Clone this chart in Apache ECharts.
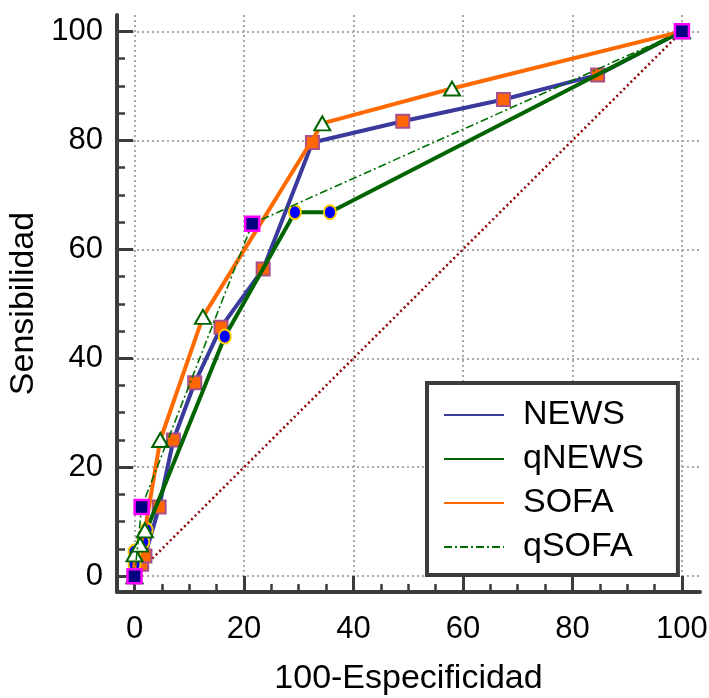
<!DOCTYPE html>
<html>
<head>
<meta charset="utf-8">
<script src="https://cdn.jsdelivr.net/npm/echarts@6/dist/echarts.min.js"></script>
<style>html,body{margin:0;padding:0;background:#fff;}#c{width:709px;height:698px;}</style>
</head>
<body>
<div id="c"></div>
<script>
// ---- data ----
const seriesNames = ['NEWS', 'qNEWS', 'SOFA', 'qSOFA'];
const newsX  = [0, 1.3, 1.9, 4.5, 7.1, 11.0, 15.8, 23.5, 32.5, 49.0, 67.4, 84.6, 100];
const newsY  = [0, 2.2, 3.7, 12.7, 25.0, 35.5, 45.7, 56.4, 79.6, 83.5, 87.5, 92.0, 100];
const qnewsX = [0, 0, 0, 1.6, 2.2, 16.5, 29.3, 35.7, 100];
const qnewsY = [0, 2.2, 4.5, 6.3, 8.5, 44.0, 66.8, 66.8, 100];
const sofaX  = [0, 0, 1.0, 1.9, 4.7, 12.5, 34.3, 58.0, 100];
const sofaY  = [0, 4.0, 5.8, 8.4, 25.0, 47.6, 83.1, 89.5, 100];
const qsofaX = [0, 1.3, 21.5, 100];
const qsofaY = [0, 12.7, 64.7, 100];
const diagX  = [0, 100];
const diagY  = [0, 100];
const majorTicks = [0, 20, 40, 60, 80, 100];
const minorTicks = [5, 10, 15, 25, 30, 35, 45, 50, 55, 65, 70, 75, 85, 90, 95];

const zip = (xs, ys) => xs.map((x, i) => [x, ys[i]]);
const AX = '#3c3c3c';
const FONT = 'Liberation Sans, Arial, sans-serif';

const chart = echarts.init(document.getElementById('c'), null, {renderer: 'canvas'});
const splitStyle = {show: true, lineStyle: {color: '#a8a8a8', width: 2, type: [2, 3]}};

function mainAxis(extra) {
  return Object.assign({
    type: 'value',
    axisLine: {show: true, onZero: false, lineStyle: {color: AX, width: 4}},
    axisTick: {show: true, inside: true, length: 16, lineStyle: {color: AX, width: 3}, customValues: majorTicks},
    splitLine: splitStyle
  }, extra);
}
function minorAxis(extra) {
  return Object.assign({
    type: 'value',
    axisLine: {show: false, onZero: false},
    axisTick: {show: true, inside: true, length: 8, lineStyle: {color: AX, width: 2.5}, customValues: minorTicks},
    axisLabel: {show: false},
    splitLine: {show: false}
  }, extra);
}

const option = {
  animation: false,
  backgroundColor: '#fff',
  grid: {left: 117, right: 9, top: 15, bottom: 106, containLabel: false, outerBoundsMode: 'none'},
  xAxis: [
    mainAxis({min: -3.2, max: 103.3, position: 'bottom',
      axisLabel: {show: true, customValues: majorTicks, fontSize: 31, fontFamily: FONT, color: '#000', margin: 22},
      name: '100-Especificidad', nameLocation: 'middle', nameGap: 70,
      nameTextStyle: {fontSize: 34, fontFamily: FONT, color: '#000'}}),
    minorAxis({min: -3.2, max: 103.3, position: 'bottom'})
  ],
  yAxis: [
    mainAxis({min: -2.9, max: 103, position: 'left',
      axisLabel: {show: true, customValues: majorTicks, fontSize: 31, fontFamily: FONT, color: '#000', margin: 14},
      name: 'Sensibilidad', nameLocation: 'middle', nameGap: 72,
      nameTextStyle: {fontSize: 34, fontFamily: FONT, color: '#000'}}),
    minorAxis({min: -2.9, max: 103, position: 'left'})
  ],
  legend: {
    data: seriesNames,
    orient: 'vertical',
    left: 427, top: 383,
    padding: [15, 34, 11, 16],
    itemWidth: 60, itemHeight: 30, itemGap: 10,
    backgroundColor: '#fff',
    borderColor: AX, borderWidth: 4, borderRadius: 0,
    itemStyle: {opacity: 0},
    textStyle: {fontSize: 34, fontFamily: FONT, color: '#000', lineHeight: 30, padding: [0, 0, 0, 14]}
  },
  series: [
    {
      name: 'ref', type: 'line', data: zip(diagX, diagY), symbol: 'none', silent: true,
      lineStyle: {color: '#8b0000', width: 2.5, type: [2, 3]}, z: 1
    },
    {
      name: 'NEWS', type: 'line', data: zip(newsX, newsY),
      symbol: 'rect', symbolSize: 13,
      lineStyle: {color: '#3a3a9c', width: 4}, color: '#3a3a9c',
      itemStyle: {color: '#ff6600', borderColor: '#a8508a', borderWidth: 2, opacity: 1}, z: 2
    },
    {
      name: 'qNEWS', type: 'line', data: zip(qnewsX, qnewsY),
      symbol: 'circle', symbolSize: [12, 14],
      lineStyle: {color: '#006400', width: 4}, color: '#006400',
      itemStyle: {color: '#0000ff', borderColor: '#ffcc00', borderWidth: 2, opacity: 1}, z: 3
    },
    {
      name: 'SOFA', type: 'line', data: zip(sofaX, sofaY),
      symbol: 'triangle', symbolSize: [16, 14],
      lineStyle: {color: '#ff6a00', width: 4}, color: '#ff6a00',
      itemStyle: {color: '#ffffff', borderColor: '#006400', borderWidth: 2, opacity: 1}, z: 4
    },
    {
      name: 'qSOFA', type: 'line', data: zip(qsofaX, qsofaY),
      symbol: 'rect', symbolSize: 14,
      lineStyle: {color: '#007000', width: 1.6, type: [8, 3, 2, 3]}, color: '#007000',
      itemStyle: {color: '#000080', borderColor: '#ff00ff', borderWidth: 2.5, opacity: 1}, z: 5
    }
  ]
};
chart.setOption(option);
</script>
</body>
</html>
